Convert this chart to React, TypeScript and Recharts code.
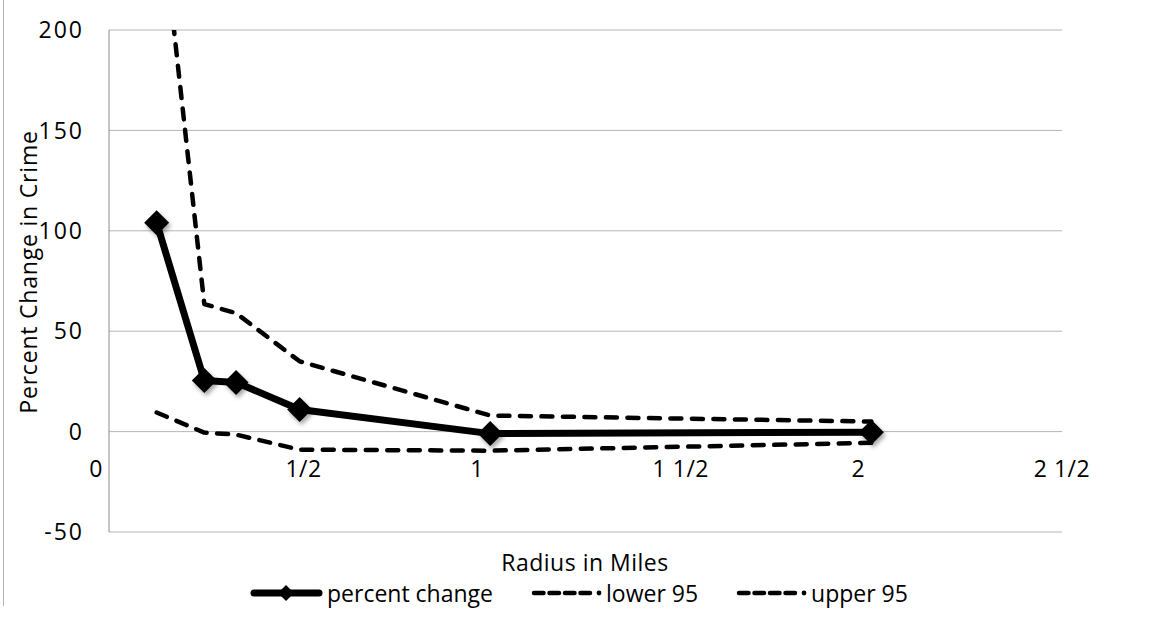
import React from 'react';
import { LineChart, Line, XAxis, YAxis, CartesianGrid } from 'recharts';

const radius = [0.125, 0.25, 1 / 3, 0.5, 1, 2];
const percentChange = [104, 25.5, 24.5, 11, -1, -0.3];
const lower95 = [9.5, -0.5, -1.5, -9, -9.5, -5.6];
const upper95 = [278, 63.5, 59, 35, 8, 5];
const seriesNames = ['percent change', 'lower 95', 'upper 95'];
const xTicks = [0, 0.5, 1, 1.5, 2, 2.5];
const xTickLabels = ['0', '1/2', '1', '1 1/2', '2', '2 1/2'];
const yTicks = [-50, 0, 50, 100, 150, 200];
const xTitle = 'Radius in Miles';
const yTitle = 'Percent Change in Crime';

const data = radius.map((r, i) => ({
  r,
  pc: percentChange[i],
  lo: lower95[i],
  up: upper95[i],
}));

const FONT = '"Open Sans", sans-serif';
const FS = 23;

const XTick = (props: any) => {
  const { x, y, payload } = props;
  const v = payload.value;
  const idx = xTicks.indexOf(v);
  const label = idx >= 0 ? xTickLabels[idx] : String(v);
  const dx = Number.isInteger(v) ? -13 : v < 1 ? 4 : 0;
  return (
    <text
      x={x + dx}
      y={y - 64}
      textAnchor="middle"
      dominantBaseline="central"
      fontFamily={FONT}
      fontSize={FS}
      letterSpacing={0.5}
      fill="#000"
    >
      {label}
    </text>
  );
};

const Diamond = (props: any) => {
  const { cx, cy } = props;
  if (cx == null || cy == null) return null;
  const r = 12.5;
  return (
    <path
      d={`M${cx},${cy - r} L${cx + r},${cy} L${cx},${cy + r} L${cx - r},${cy} Z`}
      fill="#000"
      style={{ filter: 'drop-shadow(2px 3px 2px rgba(0,0,0,0.35))' }}
    />
  );
};

const LegendIcon = ({ kind }: { kind: number }) => {
  if (kind === 0) {
    return (
      <svg width={73} height={24} style={{ display: 'block' }}>
        <line x1={4} y1={12} x2={69} y2={12} stroke="#000" strokeWidth={7} strokeLinecap="round" />
        <path d="M36,4 L44,12 L36,20 L28,12 Z" fill="#000" />
      </svg>
    );
  }
  return (
    <svg width={73} height={24} style={{ display: 'block' }}>
      <line
        x1={5}
        y1={12}
        x2={63}
        y2={12}
        stroke="#000"
        strokeWidth={4.5}
        strokeDasharray="9.5 6"
        strokeLinecap="round"
      />
      <circle cx={70} cy={12} r={2.4} fill="#000" />
    </svg>
  );
};

export default function App() {
  return (
    <div
      style={{
        position: 'absolute',
        left: 0,
        top: 0,
        width: 1151,
        height: 627,
        background: '#fff',
        fontFamily: FONT,
      }}
    >
      <div
        style={{
          position: 'absolute',
          left: 3,
          top: 0,
          width: 0,
          height: 606,
          borderLeft: '1px solid #b5b5b5',
        }}
      />
      <LineChart
        width={1151}
        height={627}
        data={data}
        margin={{ top: 30, right: 89, bottom: 0, left: 0 }}
      >
        <CartesianGrid vertical={false} stroke="#b5b5b5" strokeWidth={1} />
        <XAxis
          dataKey="r"
          type="number"
          domain={[0, 2.5]}
          ticks={xTicks}
          axisLine={false}
          tickLine={false}
          tickSize={0}
          tickMargin={0}
          height={95}
          interval={0}
          tick={<XTick />}
          label={{
            content: () => (
              <text
                x={585}
                y={562}
                textAnchor="middle"
                dominantBaseline="central"
                fontFamily={FONT}
                fontSize={FS}
                letterSpacing={0.5}
                fill="#000"
              >
                {xTitle}
              </text>
            ),
          }}
        />
        <YAxis
          type="number"
          domain={[-50, 200]}
          ticks={yTicks}
          allowDataOverflow
          width={109}
          axisLine={{ stroke: '#8c8c8c' }}
          tickLine={false}
          tickSize={0}
          tickMargin={25}
          interval={0}
          tick={{ fill: '#000', fontSize: FS, fontFamily: FONT, letterSpacing: 2 }}
          label={{
            content: () => (
              <text
                x={28}
                y={272}
                transform="rotate(-90 28 272)"
                textAnchor="middle"
                dominantBaseline="central"
                fontFamily={FONT}
                fontSize={FS}
                letterSpacing={0.8}
                fill="#000"
              >
                {yTitle}
              </text>
            ),
          }}
        />
        <Line
          dataKey="lo"
          name={seriesNames[1]}
          stroke="#000"
          strokeWidth={4.5}
          strokeDasharray="11 10.5"
          strokeLinecap="round"
          strokeLinejoin="round"
          dot={false}
          activeDot={false}
          isAnimationActive={false}
        />
        <Line
          dataKey="up"
          name={seriesNames[2]}
          stroke="#000"
          strokeWidth={4.5}
          strokeDasharray="11 10.5"
          strokeLinecap="round"
          strokeLinejoin="round"
          dot={false}
          activeDot={false}
          isAnimationActive={false}
        />
        <Line
          dataKey="pc"
          name={seriesNames[0]}
          stroke="#000"
          strokeWidth={7}
          strokeLinejoin="round"
          dot={<Diamond />}
          activeDot={false}
          isAnimationActive={false}
        />
      </LineChart>
      <div
        style={{
          position: 'absolute',
          left: 250,
          top: 578,
          height: 30,
          display: 'flex',
          alignItems: 'center',
          fontSize: FS,
          color: '#000',
          whiteSpace: 'nowrap',
        }}
      >
        {seriesNames.map((n, i) => (
          <div
            key={n}
            style={{ display: 'flex', alignItems: 'center', marginRight: i < 2 ? 36 : 0 }}
          >
            <LegendIcon kind={i} />
            <span style={{ marginLeft: 4 }}>{n}</span>
          </div>
        ))}
      </div>
    </div>
  );
}
